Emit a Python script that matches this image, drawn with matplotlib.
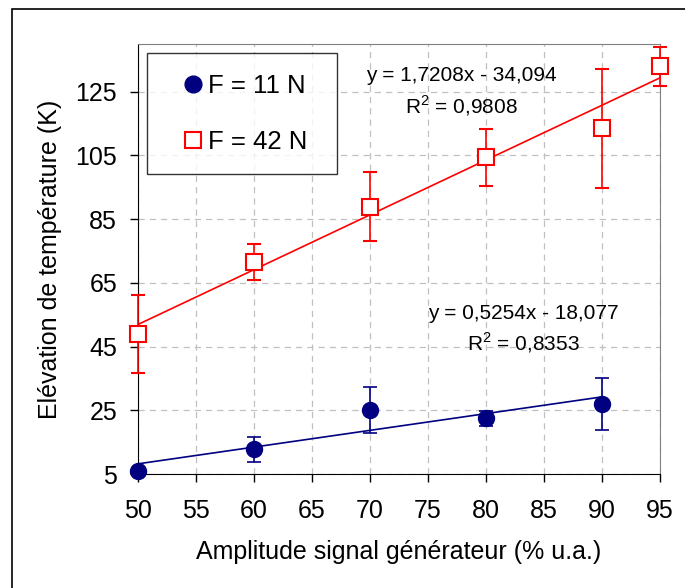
import matplotlib.pyplot as plt
import numpy as np
from matplotlib.patches import Rectangle

plt.rcParams['font.family'] = ['Liberation Sans', 'DejaVu Sans']
plt.rcParams['mathtext.fontset'] = 'custom'
plt.rcParams['mathtext.rm'] = 'Liberation Sans'

# Data
amplitude_11 = [50, 60, 70, 80, 90]
temp_11 = [6.0, 12.7, 25.0, 22.5, 26.9]
err_11 = [1.0, 4.0, 7.2, 2.4, 8.2]

amplitude_42 = [50, 60, 70, 80, 90, 95]
temp_42 = [49.0, 71.6, 88.9, 104.4, 113.5, 133.0]
err_42 = [12.2, 5.6, 10.9, 9.0, 18.8, 6.2]

# Trendline coefficients (as printed on the chart)
fit_11 = (0.5254, -18.077)
fit_42 = (1.7208, -34.094)
fit_range_11 = (50, 90)
fit_range_42 = (50, 95)

navy = '#000080'
red = '#ff0000'

fig = plt.figure(figsize=(6.85, 5.88), dpi=100)
ax = fig.add_axes([138 / 685, 1 - 474 / 588, 522 / 685, 430 / 588])

# outer frame like the Excel chart area
fig.patches.append(Rectangle((12 / 685, -0.05), 1.0, 1 - 9 / 588 + 0.05,
                             transform=fig.transFigure, fill=False,
                             edgecolor='black', linewidth=1.2))

# trendlines
xs = np.array(fit_range_11)
ax.plot(xs, fit_11[0] * xs + fit_11[1], color=navy, linewidth=1.2, zorder=2)
xs = np.array(fit_range_42)
ax.plot(xs, fit_42[0] * xs + fit_42[1], color=red, linewidth=1.2, zorder=2)

# data with error bars
ax.errorbar(amplitude_11, temp_11, yerr=err_11, fmt='o', color=navy,
            markersize=11.5, capsize=5, elinewidth=1.2, capthick=1.2,
            label='F = 11 N', zorder=3, clip_on=False)
ax.errorbar(amplitude_42, temp_42, yerr=err_42, fmt='s', color=red,
            markerfacecolor='white', markeredgecolor=red, markeredgewidth=1.5,
            markersize=11.5, capsize=5, elinewidth=1.2, capthick=1.2,
            label='F = 42 N', zorder=3, clip_on=False)

ax.set_xlim(50, 95)
ax.set_ylim(5, 140)
ax.set_xticks(np.arange(50, 96, 5))
ax.set_yticks(np.arange(5, 130, 20))
ax.tick_params(labelsize=18, direction='out', length=6, width=1)
ax.tick_params(axis='x', pad=12)
ax.tick_params(axis='y', pad=9)

ax.grid(True, linestyle=(0, (5, 4)), color='#c0c0c0', linewidth=0.9)
ax.set_axisbelow(True)
for side in ['top', 'right']:
    ax.spines[side].set_color('#808080')
for side in ['left', 'bottom']:
    ax.spines[side].set_color('black')

ax.set_xlabel('Amplitude signal générateur (% u.a.)', fontsize=18, labelpad=12)
ax.set_ylabel('Elévation de température (K)', fontsize=18, labelpad=10)

ax.text(77.9, 130.2, 'y = 1,7208x - 34,094', fontsize=15, ha='center', va='center')
ax.text(77.9, 120.6, 'R$^2$ = 0,9808', fontsize=15, ha='center', va='center')
ax.text(83.2, 55.5, 'y = 0,5254x - 18,077', fontsize=15, ha='center', va='center')
ax.text(83.2, 46.3, 'R$^2$ = 0,8353', fontsize=15, ha='center', va='center')

handles, labels = ax.get_legend_handles_labels()
handles = [h[0] for h in handles]
leg = ax.legend(handles, labels, loc='upper left', mode='expand',
                bbox_to_anchor=(0.0167, 0.0, 0.365, 0.978),
                fontsize=18.5, frameon=True, fancybox=False, edgecolor='black',
                handlelength=1.97, handletextpad=-0.4, labelspacing=1.23,
                borderpad=0.8, borderaxespad=0, markerscale=1.05)
leg.get_frame().set_linewidth(1.0)

fig.savefig('out.png', dpi=100)
